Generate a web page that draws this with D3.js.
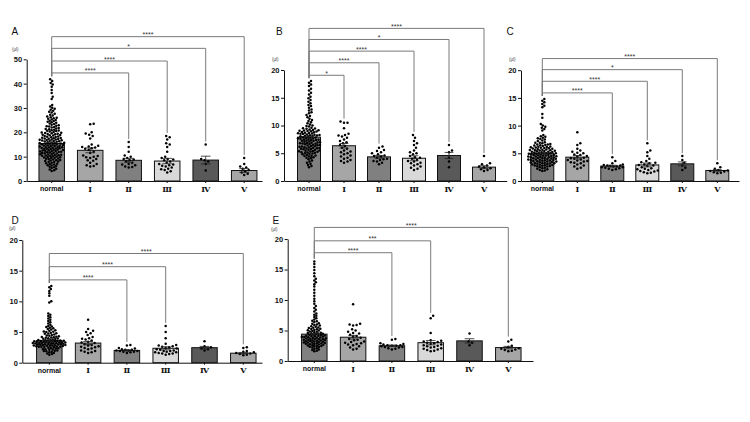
<!DOCTYPE html>
<html><head><meta charset="utf-8">
<script src="https://cdn.jsdelivr.net/npm/d3@7"></script>
<style>body{margin:0;background:#fff}svg{display:block}</style>
</head><body>
<svg id="chart" width="750" height="422"></svg>
<script>
// ---------------- DATA ----------------
const categories = ["normal","Ⅰ","Ⅱ","Ⅲ","Ⅳ","Ⅴ"];
const unitLabel = "(μl)";

// Panel A
const A_ticks = [0,10,20,30,40,50];
const A_means = [15.4,12.6,8.5,8.2,8.6,4.3];
const A_sems  = [0.45,1.0,0.8,1.1,1.6,0.8];
const A_brackets = [[2,"****",44.4],[3,"****",49.3],[4,"*",54.5],[5,"****",59.3]];
const A_normal = [41.8,41.1,40.3,39.6,38.7,37.4,36.2,34.6,33.7,31.2,30.6,30.1,29.7,29.3,28.9,28.4,28.1,27.6,27.2,26.9,26.5,26.2,26.0,25.8,25.6,25.3,25.1,24.8,24.6,24.3,24.1,23.9,23.6,23.4,23.1,22.9,22.7,22.4,22.2,22.0,21.8,21.6,21.3,21.1,20.9,20.7,20.5,20.3,20.1,19.9,19.8,19.6,19.4,19.2,19.0,18.9,18.7,18.5,18.3,18.1,18.0,17.8,17.6,17.5,17.3,17.1,17.0,16.8,16.7,16.5,16.4,16.2,16.1,15.9,15.8,15.6,15.5,15.3,15.2,15.0,14.9,14.7,14.6,14.4,14.3,14.1,14.0,13.8,13.7,13.5,13.4,13.2,13.1,12.9,12.8,12.6,12.5,12.3,12.2,12.0,11.9,11.7,11.6,11.4,11.3,11.1,11.0,10.8,10.7,10.5,10.4,10.2,10.1,9.9,9.8,9.6,9.4,9.2,9.0,8.8,8.6,8.4,8.2,8.0,7.8,7.5,7.3,7.0,6.8,6.5,6.2,5.9,5.6,5.3,5.0,4.7,4.4,4.1,22.5,21.4,20.6,19.7,18.8,18.2,17.7,16.9,16.3,15.7,15.4,14.8,14.5,13.9,13.3,12.7,12.1,11.5,10.9,10.3,9.7,9.1,8.5,7.9,7.1,6.4,17.4,15.1,13.6,11.8,10.6,19.3,14.2,12.4,16.6];
const A_I   = [23.5,23.3,20.0,19.5,19.0,18.5,17.5,15.0,14.5,14.2,14.0,13.8,13.5,13.2,12.8,12.0,11.5,10.5,10.3,10.0,9.8,9.5,9.0,8.5,8.3,7.5,7.0,6.5,6.2,6.0];
const A_II  = [16.0,14.0,12.0,10.5,10.0,9.5,9.0,8.8,8.5,8.0,7.5,7.0,6.8,6.5,6.0,5.8,5.5];
const A_III = [18.5,18.0,17.0,15.5,15.0,14.0,12.0,10.0,9.5,9.0,8.8,8.5,8.0,7.5,7.0,6.8,6.5,6.3,6.0,5.5,5.0,4.8,4.5,4.0,3.5];
const A_IV  = [15.0,9.0,8.5,8.0,7.0,4.3];
const A_V   = [9.5,7.0,6.0,5.5,5.0,4.5,4.0,3.5,3.0,2.5];

// Panel B
const B_ticks = [0,5,10,15,20];
const B_means = [7.9,6.35,4.35,4.1,4.6,2.5];
const B_sems  = [0.15,0.4,0.25,0.45,0.55,0.25];
const B_brackets = [[1,"*",19.05],[2,"****",21.3],[3,"****",23.4],[4,"*",25.5],[5,"****",27.5]];
const B_normal = [18.0,17.7,17.4,17.1,16.6,16.3,15.9,15.6,15.2,14.9,14.6,14.3,14.0,13.7,13.5,13.2,12.9,12.7,12.4,12.2,11.9,11.7,11.5,11.2,11.0,10.8,10.6,10.4,10.2,10.0,9.9,9.8,9.6,9.5,9.4,9.3,9.2,9.1,9.0,8.9,8.8,8.7,8.6,8.5,8.4,8.3,8.2,8.1,8.0,7.9,7.8,7.7,7.6,7.5,7.4,7.3,7.2,7.1,7.0,6.9,6.8,6.7,6.6,6.5,6.4,6.3,6.2,6.1,6.0,5.9,5.8,5.7,5.6,5.5,5.4,5.3,5.2,5.1,5.0,4.9,4.8,4.7,4.6,4.5,4.4,4.3,4.2,4.1,3.9,3.7,3.5,3.3,3.1,2.9,2.7,2.5,9.45,9.15,8.85,8.65,8.45,8.25,8.05,7.85,7.65,7.45,7.25,7.05,6.85,6.65,6.45,6.25,6.05,5.85,5.65,5.45,5.25,8.95,8.55,8.15,7.75,7.35,6.95,6.55,6.15,5.75,5.35,4.95,4.55,9.05,8.35,7.55,6.75,5.95,5.15];
const B_I   = [10.7,10.5,10.5,9.5,8.5,8.3,8.2,8.0,7.8,7.5,7.2,7.0,6.8,6.5,6.3,6.0,5.8,5.5,5.3,5.2,5.0,4.8,4.6,4.4,4.2,4.0,3.8,3.6,3.5,3.3];
const B_II  = [6.2,6.0,5.6,5.4,5.2,5.0,4.8,4.6,4.5,4.4,4.2,4.0,3.9,3.8,3.6,3.5,3.3,3.0];
const B_III = [8.3,7.8,7.2,6.8,6.5,6.0,5.5,5.2,5.0,4.8,4.5,4.3,4.2,4.0,3.8,3.6,3.5,3.3,3.2,3.0,2.8,2.6,2.4,2.2,2.0];
const B_IV  = [6.5,5.5,5.2,4.2,3.5,2.5];
const B_V   = [4.5,3.2,3.0,2.8,2.6,2.5,2.3,2.1,2.0,1.8];

// Panel C
const C_ticks = [0,5,10,15,20];
const C_means = [5.0,4.3,2.7,2.9,3.1,1.9];
const C_sems  = [0.1,0.3,0.15,0.35,0.35,0.15];
const C_brackets = [[2,"****",15.9],[3,"****",18.0],[4,"*",20.1],[5,"****",22.1]];
const C_normal = [14.8,14.5,14.2,13.9,13.6,13.3,12.1,11.4,10.3,10.0,9.8,9.6,9.4,9.1,8.3,8.0,7.8,7.6,7.5,7.3,7.2,7.0,6.9,6.8,6.7,6.6,6.5,6.4,6.3,6.2,6.1,6.0,5.9,5.8,5.7,5.6,5.5,5.4,5.3,5.2,5.1,5.0,4.9,4.8,4.7,4.6,4.5,4.4,4.3,4.2,4.1,4.0,3.9,3.8,3.7,3.6,3.5,3.4,3.3,3.2,3.1,3.0,2.9,2.8,2.7,2.6,2.5,2.4,2.3,2.2,2.1,2.0,1.9,1.8,6.45,6.25,6.05,5.85,5.65,5.45,5.25,5.05,4.85,4.65,4.45,4.25,4.05,3.85,3.65,3.45,3.25,3.05,2.85,2.65,6.15,5.95,5.75,5.55,5.35,5.15,4.95,4.75,4.55,4.35,4.15,3.95,3.75,3.55,3.35,3.15,2.95,2.75,5.6,5.0,4.4,3.8,3.2,4.7,4.1,3.5,4.9,4.3,5.3,3.9,6.6,6.9,7.7,8.1];
const C_I   = [8.8,6.8,6.5,5.8,5.5,5.3,5.1,5.0,4.8,4.7,4.5,4.4,4.2,4.1,4.0,3.9,3.8,3.7,3.6,3.5,3.4,3.3,3.2,3.0,2.8,2.6,2.4,2.2];
const C_II  = [4.3,3.6,3.2,3.0,2.9,2.8,2.8,2.7,2.6,2.6,2.5,2.5,2.4,2.3,2.2,2.1,2.0];
const C_III = [6.8,5.5,5.2,4.5,4.0,3.6,3.4,3.3,3.2,3.0,2.9,2.8,2.7,2.5,2.3,2.2,2.1,2.0,1.9,1.8,1.7,1.6,1.5,1.4];
const C_IV  = [4.5,3.8,3.3,2.8,2.4,2.0];
const C_V   = [3.2,2.5,2.2,2.0,1.9,1.8,1.7,1.6,1.5,1.4];

// Panel D
const D_ticks = [0,5,10,15,20];
const D_means = [3.6,3.2,2.0,2.35,2.45,1.55];
const D_sems  = [0.1,0.25,0.1,0.25,0.2,0.12];
const D_brackets = [[2,"****",13.5],[3,"****",15.65],[5,"****",17.8]];
const D_normal = [12.5,12.3,12.0,11.7,11.3,10.9,10.0,9.8,8.0,7.8,7.6,7.4,7.2,7.0,6.8,6.6,6.4,6.2,6.0,5.9,5.8,5.7,5.6,5.5,5.4,5.3,5.2,5.1,5.0,4.9,4.8,4.7,4.6,4.5,4.4,4.3,4.2,4.1,4.0,3.9,3.8,3.7,3.6,3.5,3.4,3.3,3.2,3.1,3.0,2.9,2.8,2.7,2.6,2.5,2.4,2.3,2.2,2.1,2.0,1.9,1.8,1.7,1.6,1.5,1.4,1.3,4.15,4.05,3.95,3.85,3.75,3.65,3.55,3.45,3.35,3.25,3.15,3.05,2.95,2.85,2.75,2.65,2.55,2.45,2.35,2.25,2.15,3.62,3.52,3.42,3.32,3.22,3.12,3.02,2.92,2.82,2.72,2.62,3.58,3.38,3.18,2.98,2.78,2.58,4.45,4.25,3.48,3.28,3.08,2.88,5.05,4.75,1.95,1.85];
const D_I   = [7.0,5.5,5.2,5.0,4.8,4.5,4.2,4.0,3.9,3.8,3.6,3.4,3.3,3.2,3.0,2.9,2.8,2.7,2.6,2.5,2.4,2.3,2.2,2.0,1.9,1.8,1.7,1.6];
const D_II  = [2.9,2.8,2.4,2.3,2.2,2.1,2.1,2.0,2.0,1.9,1.9,1.8,1.8,1.7,1.6];
const D_III = [6.0,5.0,4.0,3.1,2.9,2.8,2.7,2.6,2.5,2.4,2.3,2.2,2.1,2.0,1.9,1.9,1.8,1.7,1.7,1.6,1.5,1.5,1.4,1.3];
const D_IV  = [3.5,2.7,2.5,2.3,2.2,2.0];
const D_V   = [2.5,2.4,1.9,1.8,1.7,1.6,1.5,1.4,1.3,1.2];

// Panel E
const E_ticks = [0,5,10,15,20];
const E_means = [4.4,3.9,2.5,3.0,3.3,2.2];
const E_sems  = [0.1,0.3,0.12,0.35,0.35,0.2];
const E_brackets = [[2,"****",17.75],[3,"***",19.7],[5,"****",21.9]];
const E_normal = [16.3,15.9,15.4,14.9,14.4,13.9,13.5,13.2,12.9,12.6,12.2,11.7,11.2,10.7,10.2,9.8,9.4,9.0,8.7,8.4,8.1,7.8,7.6,7.4,7.2,7.0,6.8,6.6,6.4,6.2,6.0,5.9,5.8,5.7,5.6,5.5,5.4,5.3,5.2,5.1,5.0,4.9,4.8,4.7,4.6,4.5,4.4,4.3,4.2,4.1,4.0,3.9,3.8,3.7,3.6,3.5,3.4,3.3,3.2,3.1,3.0,2.9,2.8,2.7,2.6,2.5,2.4,2.3,2.2,2.1,2.0,1.9,1.8,1.7,1.6,4.55,4.35,4.15,3.95,3.75,3.55,3.35,3.15,2.95,2.75,2.55,2.35,4.45,4.25,4.05,3.85,3.65,3.45,3.25,3.05,2.85,2.65,2.45,5.05,4.85,4.65,3.82,3.62,3.42,3.22,3.02,2.82,4.12,3.92,5.45,5.25,6.1,6.5];
const E_I   = [9.3,6.1,6.0,5.9,5.8,5.2,5.0,4.8,4.6,4.5,4.3,4.1,4.0,3.8,3.6,3.5,3.4,3.2,3.1,3.0,2.9,2.8,2.7,2.6,2.4,2.2,2.0,1.9];
const E_II  = [3.6,3.5,2.9,2.8,2.7,2.6,2.6,2.5,2.5,2.4,2.3,2.3,2.2,2.1,2.0,1.9];
const E_III = [7.4,7.0,4.6,3.4,3.3,3.2,3.1,3.0,2.9,2.8,2.7,2.6,2.5,2.4,2.3,2.2,2.1,2.0,1.9,1.8,1.7,1.6];
const E_IV  = [4.5,3.2,3.0,2.6];
const E_V   = [3.5,3.2,2.5,2.3,2.1,2.0,1.9,1.8,1.7,1.6];

// ---------------- STYLE / LAYOUT ----------------
const barColors = ["#808080","#a6a6a6","#808080","#d9d9d9","#595959","#a6a6a6"];
const panels = [
  {id:"A", ticks:A_ticks, yMax:50, means:A_means, sems:A_sems, brackets:A_brackets, points:[A_normal,A_I,A_II,A_III,A_IV,A_V],
   x0:26.7, xEnd:262, firstCenter:51.7, step:38.5, bw:25.5, yBottom:181, yTop:59.3, lx:11.5, ly:35, ux:12, uy:51},
  {id:"B", ticks:B_ticks, yMax:20, means:B_means, sems:B_sems, brackets:B_brackets, points:[B_normal,B_I,B_II,B_III,B_IV,B_V],
   x0:284, xEnd:506.7, firstCenter:309, step:35, bw:23, yBottom:181, yTop:70, lx:276, ly:35, ux:272, uy:61},
  {id:"C", ticks:C_ticks, yMax:20, means:C_means, sems:C_sems, brackets:C_brackets, points:[C_normal,C_I,C_II,C_III,C_IV,C_V],
   x0:521, xEnd:739, firstCenter:542.3, step:35, bw:23, yBottom:181, yTop:70.2, lx:506.5, ly:35, ux:509, uy:61},
  {id:"D", ticks:D_ticks, yMax:20, means:D_means, sems:D_sems, brackets:D_brackets, points:[D_normal,D_I,D_II,D_III,D_IV,D_V],
   x0:22.3, xEnd:262, firstCenter:49.3, step:38.8, bw:25.5, yBottom:362.7, yTop:240, lx:11.5, ly:223.5, ux:9, uy:230},
  {id:"E", ticks:E_ticks, yMax:20, means:E_means, sems:E_sems, brackets:E_brackets, points:[E_normal,E_I,E_II,E_III,E_IV,E_V],
   x0:287.7, xEnd:533, firstCenter:314.3, step:38.8, bw:25.5, yBottom:361, yTop:239, lx:272.5, ly:224, ux:271, uy:231}
];

const svg = d3.select("#chart");
const R = 1.25;

function beeswarm(vals, y, cx, maxOff, dist) {
  const sorted = vals.slice().sort((a,b)=>a-b);
  const placed = [];
  sorted.forEach(v => {
    const py = y(v);
    let best = null, bestScore = -1;
    for (let k = 0; k <= 2*Math.ceil(maxOff/0.5); k++) {
      const off = (k % 2 === 1 ? 1 : -1) * Math.ceil(k/2) * 0.5;
      if (Math.abs(off) > maxOff) break;
      const px = cx + off;
      let minD = Infinity;
      for (const p of placed) {
        const dy = p[1]-py; if (Math.abs(dy) >= dist) continue;
        const d = Math.hypot(p[0]-px, dy);
        if (d < minD) minD = d;
      }
      if (minD >= dist) { best = px; break; }
      if (minD > bestScore) { bestScore = minD; best = px; }
    }
    placed.push([best, py]);
  });
  return placed;
}

panels.forEach(cfg => {
  const g = svg.append("g");
  const n = categories.length;
  const pi = 1 - cfg.bw/cfg.step;
  const O = (cfg.xEnd - cfg.x0) - cfg.step*(n - pi);
  const x = d3.scaleBand().domain(categories).range([cfg.x0, cfg.xEnd])
    .paddingInner(pi).paddingOuter(O/(2*cfg.step))
    .align((cfg.firstCenter - cfg.bw/2 - cfg.x0)/O);
  const y = d3.scaleLinear().domain([0, cfg.yMax]).range([cfg.yBottom, cfg.yTop]);
  const bw = x.bandwidth();
  const cx = i => x(categories[i]) + bw/2;

  // bars
  g.selectAll("rect.bar").data(cfg.means).join("rect").attr("class","bar")
    .attr("x",(d,i)=>x(categories[i])).attr("y",d=>y(d))
    .attr("width",bw).attr("height",d=>y(0)-y(d))
    .attr("fill",(d,i)=>barColors[i]).attr("stroke","#111").attr("stroke-width",1);

  // points
  cfg.points.forEach((vals,i) => {
    const pts = i===0 ? beeswarm(vals, y, cx(i), bw/2 + 4, 2.3)
                      : beeswarm(vals, y, cx(i), bw/2 - 1, 3.4);
    g.append("g").selectAll("circle").data(pts).join("circle")
      .attr("cx",d=>d[0]).attr("cy",d=>d[1]).attr("r",R).attr("fill","#000");
  });

  // error bars
  const cap = bw*0.38;
  cfg.means.forEach((m,i) => {
    const s = cfg.sems[i], c = cx(i);
    g.append("path").attr("d",
      `M${c},${y(m-s)}V${y(m+s)}M${c-cap/2},${y(m+s)}H${c+cap/2}M${c-cap/2},${y(m-s)}H${c+cap/2}`)
      .attr("stroke","#222").attr("stroke-width",0.8).attr("fill","none");
  });

  // axes
  const ya = g.append("g").attr("transform",`translate(${cfg.x0},0)`)
    .call(d3.axisLeft(y).tickValues(cfg.ticks).tickSize(3).tickSizeOuter(0).tickPadding(1.5));
  ya.selectAll("text").attr("font-family","Liberation Sans, Arial, sans-serif")
    .attr("font-size",7.5).attr("font-weight","bold").attr("fill","#111");
  const xa = g.append("g").attr("transform",`translate(0,${cfg.yBottom})`)
    .call(d3.axisBottom(x).tickSize(2).tickSizeOuter(0).tickPadding(3));
  xa.selectAll("text").attr("fill","#111")
    .attr("font-family",(d,i)=> i===0 ? "Liberation Sans, Arial, sans-serif" : "Liberation Serif, DejaVu Serif, serif")
    .attr("font-weight","bold")
    .attr("font-size",(d,i)=> i===0 ? 7 : 8);
  g.selectAll(".domain, .tick line").attr("stroke","#111").attr("stroke-width",1);

  // brackets
  const topN = y(d3.max(cfg.points[0])) - 3;
  cfg.brackets.forEach(([idx,label,level]) => {
    const yl = y(level), xl = cx(0), xr = cx(idx);
    const yr = y(d3.max(cfg.points[idx])) - 3;
    g.append("path").attr("d",`M${xl},${topN}V${yl}H${xr}V${yr}`)
      .attr("stroke","#7a7a7a").attr("stroke-width",1).attr("fill","none");
    g.append("text").attr("x",(xl+xr)/2).attr("y",yl+0.5).attr("text-anchor","middle")
      .attr("font-family","Liberation Sans, Arial, sans-serif").attr("font-size",7)
      .attr("fill","#333").text(label);
  });

  // panel letter and unit
  g.append("text").attr("x",cfg.lx).attr("y",cfg.ly).attr("font-family","Liberation Sans, Arial, sans-serif")
    .attr("font-size",10).attr("fill","#111").text(cfg.id);
  g.append("text").attr("x",cfg.ux).attr("y",cfg.uy).attr("font-family","Liberation Sans, Arial, sans-serif")
    .attr("font-size",4.5).attr("fill","#444").text(unitLabel);
});
</script>
</body></html>
